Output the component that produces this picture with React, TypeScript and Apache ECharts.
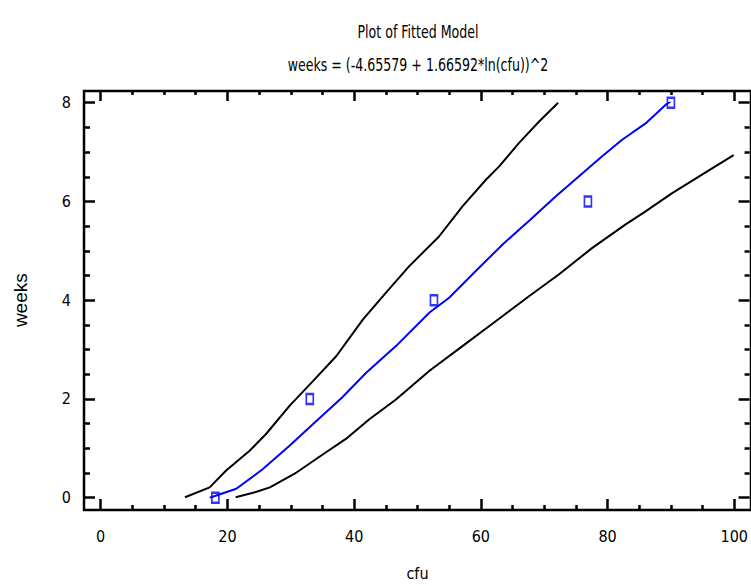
import React, { useEffect, useRef } from "react";
import * as echarts from "echarts";

const titleText = "Plot of Fitted Model";
const subtitleText = "weeks = (-4.65579 + 1.66592*ln(cfu))^2";
const xName = "cfu";
const yName = "weeks";

const obsCfu = [18.1, 33.0, 52.6, 76.9, 90.0];
const obsWeeks = [0, 2, 4, 6, 8];

const fitCfu = [17.2, 21.4, 25.6, 29.8, 34.0, 38.1, 41.9, 46.6, 51.9, 55.0, 59.2, 63.6, 67.8, 71.8, 75.5, 79.1, 82.3, 86.0, 89.1, 90.0];
const fitWeeks = [0.0, 0.18, 0.58, 1.05, 1.55, 2.03, 2.53, 3.07, 3.75, 4.05, 4.59, 5.15, 5.63, 6.1, 6.51, 6.91, 7.25, 7.58, 7.95, 8.03];

const upperCfu = [13.3, 17.2, 19.8, 23.5, 26.1, 29.8, 33.5, 37.2, 41.4, 45.0, 48.7, 53.4, 57.1, 60.8, 62.9, 66.0, 69.2, 72.2];
const upperWeeks = [0.01, 0.21, 0.55, 0.95, 1.29, 1.86, 2.36, 2.87, 3.61, 4.15, 4.69, 5.29, 5.9, 6.44, 6.71, 7.18, 7.62, 8.0];

const lowerCfu = [21.3, 24.6, 26.7, 30.9, 35.1, 38.7, 42.4, 46.6, 51.9, 57.1, 62.4, 67.6, 72.3, 77.6, 82.8, 86.0, 90.2, 96.5, 99.9];
const lowerWeeks = [0.01, 0.12, 0.21, 0.51, 0.88, 1.19, 1.59, 1.99, 2.57, 3.07, 3.58, 4.08, 4.52, 5.06, 5.53, 5.8, 6.17, 6.67, 6.94];

const pairs = (xs: number[], ys: number[]) => xs.map((x, i) => [x, ys[i]]);

const NARROW = "'Liberation Sans Narrow', 'Arial Narrow', 'DejaVu Sans Condensed', sans-serif";

export default function App() {
  const ref = useRef<HTMLDivElement>(null);
  useEffect(() => {
    if (!ref.current) return;
    const chart = echarts.init(ref.current, null, { renderer: "svg" });
    const gridL = 100.7, gridR = 15.3, gridT = 102.7, gridB = 87.3;
    const tickStyle = { color: "#000", width: 2.5 };
    const minorStyle = { color: "#000", width: 2.5 };
    const labelStyle = { color: "#000", fontSize: 16, fontFamily: NARROW };
    const hiddenLine = { show: false, onZero: false };
    chart.setOption({
      animation: false,
      backgroundColor: "#fff",
      grid: { left: gridL, right: gridR, top: gridT, bottom: gridB },
      graphic: [
        {
          type: "rect",
          shape: { x: 84, y: 91, width: 667, height: 419 },
          style: { fill: "none", stroke: "#000", lineWidth: 2.5 },
          z: 10,
        },
        {
          type: "text",
          x: 418,
          y: 33,
          scaleY: 1.2,
          style: { text: titleText, fill: "#000", fontSize: 14, fontFamily: NARROW, align: "center", verticalAlign: "middle" },
        },
        {
          type: "text",
          x: 418,
          y: 66,
          scaleY: 1.2,
          style: { text: subtitleText, fill: "#000", fontSize: 14, fontFamily: NARROW, align: "center", verticalAlign: "middle" },
        },
      ],
      xAxis: [
        {
          type: "value",
          min: 0,
          max: 100,
          interval: 20,
          position: "bottom",
          offset: 11.3,
          axisLine: hiddenLine,
          axisTick: { show: true, inside: true, length: 10, lineStyle: tickStyle },
          minorTick: { show: true, splitNumber: 4, length: 4, lineStyle: minorStyle },
          splitLine: { show: false },
          axisLabel: { ...labelStyle, margin: 19 },
          name: xName,
          nameLocation: "middle",
          nameGap: 56,
          nameTextStyle: { color: "#000", fontSize: 16, fontFamily: NARROW },
        },
        {
          type: "value",
          min: 0,
          max: 100,
          interval: 20,
          position: "top",
          offset: 11.7,
          axisLine: hiddenLine,
          axisTick: { show: true, inside: true, length: 10, lineStyle: tickStyle },
          minorTick: { show: true, splitNumber: 4, length: 4, lineStyle: minorStyle },
          splitLine: { show: false },
          axisLabel: { show: false },
        },
      ],
      yAxis: [
        {
          type: "value",
          min: 0,
          max: 8,
          interval: 2,
          position: "left",
          offset: 16.7,
          axisLine: hiddenLine,
          axisTick: { show: true, inside: true, length: 11, lineStyle: tickStyle },
          minorTick: { show: true, splitNumber: 4, length: 6, lineStyle: minorStyle },
          splitLine: { show: false },
          axisLabel: { ...labelStyle, margin: 13 },
          name: yName,
          nameLocation: "middle",
          nameGap: 54,
          nameTextStyle: { color: "#000", fontSize: 19, fontFamily: "'Liberation Sans', Arial, sans-serif" },
        },
        {
          type: "value",
          min: 0,
          max: 8,
          interval: 2,
          position: "right",
          offset: 15.3,
          axisLine: hiddenLine,
          axisTick: { show: true, inside: true, length: 11, lineStyle: tickStyle },
          minorTick: { show: true, splitNumber: 4, length: 5, lineStyle: minorStyle },
          splitLine: { show: false },
          axisLabel: { show: false },
        },
      ],
      series: [
        {
          type: "line",
          name: "upper",
          data: pairs(upperCfu, upperWeeks),
          showSymbol: false,
          symbol: "none",
          lineStyle: { color: "#000", width: 2 },
          silent: true,
        },
        {
          type: "line",
          name: "lower",
          data: pairs(lowerCfu, lowerWeeks),
          showSymbol: false,
          symbol: "none",
          lineStyle: { color: "#000", width: 2 },
          silent: true,
        },
        {
          type: "line",
          name: "fit",
          data: pairs(fitCfu, fitWeeks),
          showSymbol: false,
          symbol: "none",
          lineStyle: { color: "#0000ff", width: 2 },
          silent: true,
        },
        {
          type: "scatter",
          name: "observed",
          data: pairs(obsCfu, obsWeeks),
          symbol: "rect",
          symbolSize: [7, 10],
          itemStyle: { color: "rgba(0,0,0,0)", borderColor: "#0000ff", borderWidth: 2 },
          z: 5,
        },
      ],
    });
    return () => chart.dispose();
  }, []);
  return (
    <div
      ref={ref}
      style={{ position: "fixed", left: 0, top: 0, width: 751, height: 586, background: "#fff" }}
    />
  );
}
